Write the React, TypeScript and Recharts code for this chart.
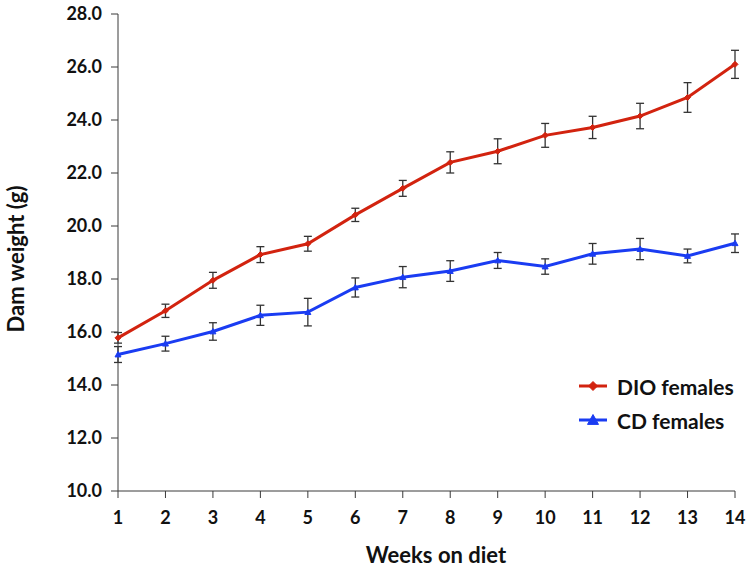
import { ErrorBar, Line, LineChart, XAxis, YAxis } from "recharts";

// ---------------------------------------------------------------------------
// Data
// ---------------------------------------------------------------------------

const WEEKS = [1, 2, 3, 4, 5, 6, 7, 8, 9, 10, 11, 12, 13, 14];
const DIO_MEAN = [15.78, 16.8, 17.95, 18.92, 19.33, 20.42, 21.42, 22.4, 22.82, 23.42, 23.72, 24.15, 24.85, 26.1];
const DIO_SEM = [0.2, 0.25, 0.3, 0.3, 0.28, 0.25, 0.3, 0.4, 0.47, 0.45, 0.42, 0.48, 0.56, 0.53];
const CD_MEAN = [15.15, 15.56, 16.02, 16.63, 16.75, 17.68, 18.07, 18.3, 18.7, 18.47, 18.95, 19.13, 18.87, 19.35];
const CD_SEM = [0.3, 0.28, 0.33, 0.38, 0.52, 0.36, 0.4, 0.39, 0.3, 0.29, 0.39, 0.4, 0.26, 0.35];
const Y_TICKS = [10, 12, 14, 16, 18, 20, 22, 24, 26, 28];

const data = WEEKS.map((week, i) => ({
  week,
  dio: DIO_MEAN[i],
  dioErr: DIO_SEM[i],
  cd: CD_MEAN[i],
  cdErr: CD_SEM[i],
}));

// ---------------------------------------------------------------------------
// Styling
// ---------------------------------------------------------------------------

const RED = "#d2230f";
const BLUE = "#1a3cf2";
const AXIS = "#3a3a3a";
const FONT = "Lato, 'Open Sans', sans-serif";
const TICK = { fontSize: 18, fontWeight: 700, fill: "#111", fontFamily: FONT };

function Diamond(props: any) {
  const { cx, cy, color = RED, r = 4.5 } = props;
  if (cx == null || cy == null) return null;
  return (
    <path
      d={`M${cx},${cy - r} L${cx + r},${cy} L${cx},${cy + r} L${cx - r},${cy} Z`}
      fill={color}
      stroke={color}
    />
  );
}

function Triangle(props: any) {
  const { cx, cy, color = BLUE, r = 5.5 } = props;
  if (cx == null || cy == null) return null;
  return (
    <path
      d={`M${cx},${cy - r} L${cx + r},${cy + r * 0.8} L${cx - r},${cy + r * 0.8} Z`}
      fill={color}
      stroke={color}
    />
  );
}

function LegendBox() {
  const rows = [
    { label: "DIO females", color: RED, Marker: Diamond },
    { label: "CD females", color: BLUE, Marker: Triangle },
  ];
  return (
    <div style={{ position: "absolute", left: 577, top: 369, fontFamily: FONT }}>
      {rows.map(({ label, color, Marker }) => (
        <div key={label} style={{ display: "flex", alignItems: "center", height: 34 }}>
          <svg width={32} height={14}>
            <line x1={2} y1={7} x2={30} y2={7} stroke={color} strokeWidth={3} />
            <Marker cx={16} cy={7} color={color} />
          </svg>
          <span style={{ marginLeft: 8, fontSize: 21, fontWeight: 700, color: "#111" }}>{label}</span>
        </div>
      ))}
    </div>
  );
}

export default function App() {
  return (
    <div style={{ position: "absolute", left: 0, top: 0, width: 751, height: 570, background: "#fff" }}>
      <LineChart
        width={751}
        height={570}
        data={data}
        margin={{ top: 14, right: 16, bottom: 39, left: 0 }}
      >
        <XAxis
          dataKey="week"
          type="number"
          domain={[1, 14]}
          ticks={WEEKS}
          height={40}
          tickSize={7}
          tickMargin={13}
          stroke={AXIS}
          tick={TICK}
          label={{
            content: ({ viewBox }: any) => (
              <text
                x={436}
                y={viewBox.y + 72}
                textAnchor="middle"
                fontSize={22}
                fontWeight={700}
                fontFamily={FONT}
                fill="#111"
              >
                Weeks on diet
              </text>
            ),
          }}
        />
        <YAxis
          type="number"
          domain={[10, 28]}
          ticks={Y_TICKS}
          width={118}
          tickSize={7}
          tickMargin={9}
          stroke={AXIS}
          tick={TICK}
          tickFormatter={(v: number) => v.toFixed(1)}
          label={{
            content: () => (
              <text
                x={24}
                y={259}
                textAnchor="middle"
                transform="rotate(-90, 24, 259)"
                fontSize={22}
                fontWeight={700}
                fontFamily={FONT}
                fill="#111"
              >
                Dam weight (g)
              </text>
            ),
          }}
        />
        <Line
          dataKey="dio"
          name="DIO females"
          stroke={RED}
          strokeWidth={3}
          dot={<Diamond />}
          activeDot={false}
          isAnimationActive={false}
        >
          <ErrorBar dataKey="dioErr" width={4} stroke="#333" strokeWidth={1.3} direction="y" />
        </Line>
        <Line
          dataKey="cd"
          name="CD females"
          stroke={BLUE}
          strokeWidth={3}
          dot={<Triangle />}
          activeDot={false}
          isAnimationActive={false}
        >
          <ErrorBar dataKey="cdErr" width={4} stroke="#333" strokeWidth={1.3} direction="y" />
        </Line>
      </LineChart>
      <LegendBox />
    </div>
  );
}
